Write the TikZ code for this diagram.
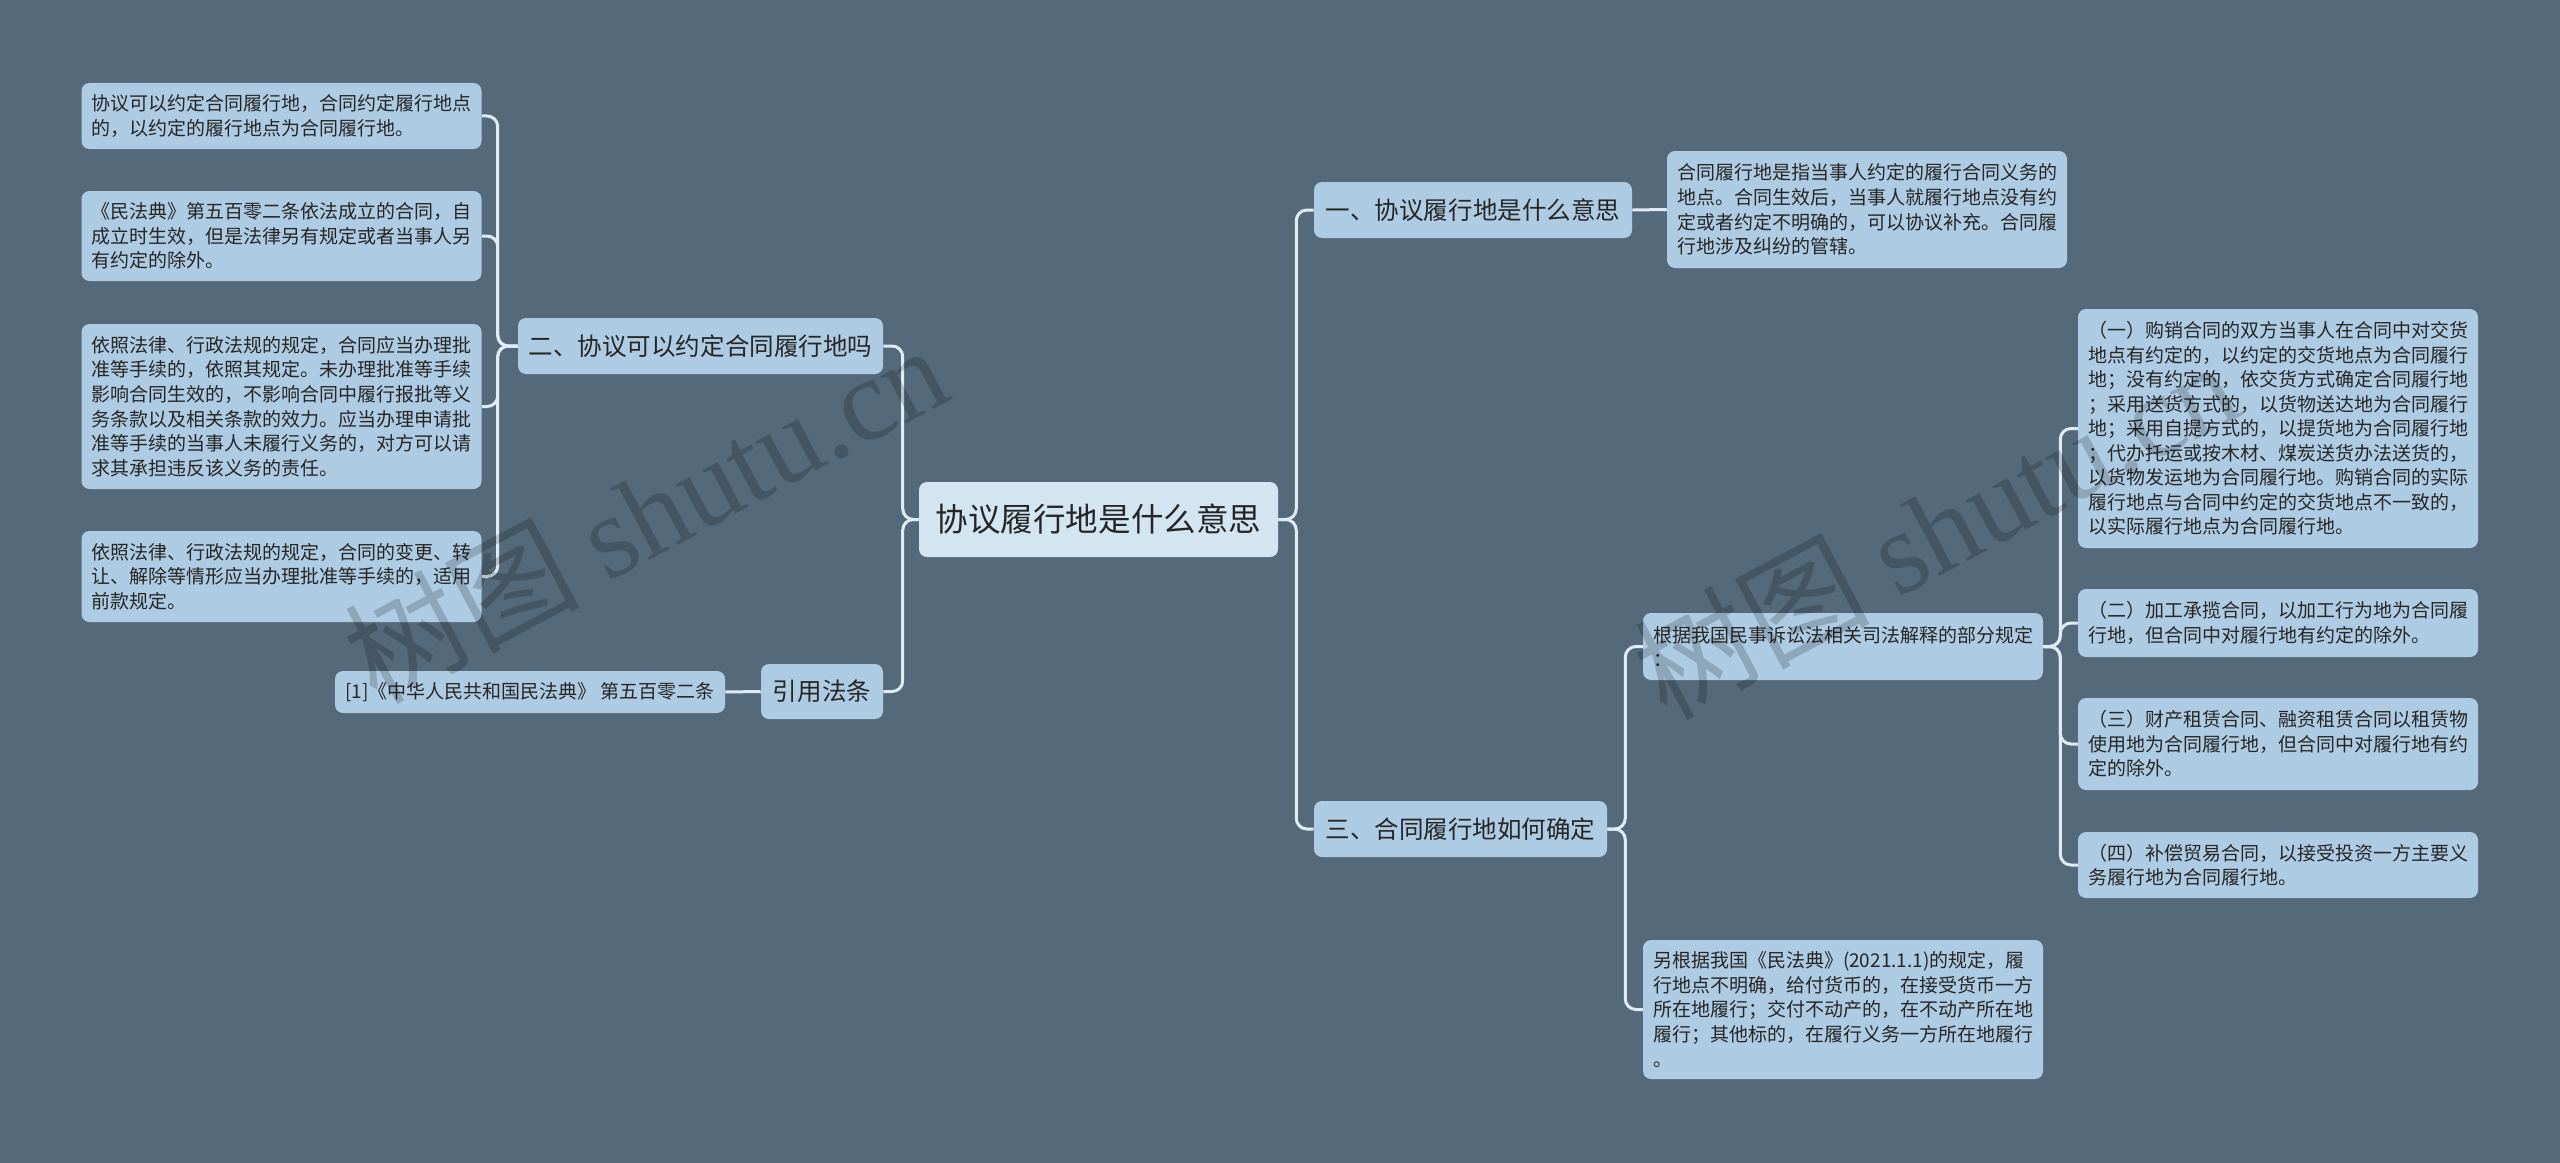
\documentclass[tikz,border=0pt]{standalone}
\usepackage{fontspec}
\setmainfont{Noto Sans CJK SC}
\newfontfamily\wmlatin{Liberation Serif}
\definecolor{bgc}{HTML}{546A7A}
\definecolor{nodefill}{HTML}{ADCBE2}
\definecolor{rootfill}{HTML}{D2E5F1}
\definecolor{linec}{HTML}{DDECF5}
\definecolor{txt}{HTML}{262626}
\newcommand\lfnt{\fontsize{14.25pt}{18.4pt}\selectfont\parindent=0pt}
\newcommand\bfnt{\fontsize{18.4pt}{22pt}\selectfont}
\newcommand\rfnt{\fontsize{24.4pt}{28pt}\selectfont}
\tikzset{
  box/.style={rectangle, rounded corners=6pt, fill=nodefill, text=txt, inner sep=0pt},
  leaf/.style={box, text width=285pt, align=left, inner xsep=7.5pt, font=\lfnt},
  branch/.style={box, font=\bfnt, minimum height=42pt},
  rootbox/.style={box, fill=rootfill, font=\rfnt, minimum width=269.25pt, minimum height=56.25pt},
  conn/.style={draw=linec, line width=2.25pt, rounded corners=8pt},
  wm/.style={text=black, text opacity=0.18, rotate=28, inner sep=0pt, font=\fontsize{88pt}{96pt}\selectfont}
}
\begin{document}
\begin{tikzpicture}[x=0.75pt,y=-0.75pt]
\path[fill=bgc] (0,0) rectangle (2560,1163);
\useasboundingbox (0,0) rectangle (2560,1163);

% root
\node[rootbox] (root) at (1098.5,519.5) {协议履行地是什么意思};

% left side
\node[branch, minimum width=273.75pt] (L1) at (700.5,346) {二、协议可以约定合同履行地吗};
\node[branch, minimum width=91.5pt, minimum height=41.25pt] (cite) at (822,691.5) {引用法条};
\node[box, font=\lfnt, minimum width=292.5pt, minimum height=31.5pt] (citeleaf) at (530,692) {[1]《中华人民共和国民法典》 第五百零二条};

\node[leaf, minimum height=49.5pt] (leaf1) at (281.5,116) {协议可以约定合同履行地，合同约定履行地点\\的，以约定的履行地点为合同履行地。};
\node[leaf, minimum height=67.5pt] (leaf2) at (281.5,236) {《民法典》第五百零二条依法成立的合同，自\\成立时生效，但是法律另有规定或者当事人另\\有约定的除外。};
\node[leaf, minimum height=123.75pt] (leaf3) at (281.5,406.5) {依照法律、行政法规的规定，合同应当办理批\\准等手续的，依照其规定。未办理批准等手续\\影响合同生效的，不影响合同中履行报批等义\\务条款以及相关条款的效力。应当办理申请批\\准等手续的当事人未履行义务的，对方可以请\\求其承担违反该义务的责任。};
\node[leaf, minimum height=68.25pt] (leaf4) at (281.5,576.5) {依照法律、行政法规的规定，合同的变更、转\\让、解除等情形应当办理批准等手续的，适用\\前款规定。};

% right side
\node[branch, minimum width=238.5pt] (R1) at (1473,210) {一、协议履行地是什么意思};
\node[leaf, minimum height=87.75pt] (R1leaf) at (1867,209.5) {合同履行地是指当事人约定的履行合同义务的\\地点。合同生效后，当事人就履行地点没有约\\定或者约定不明确的，可以协议补充。合同履\\行地涉及纠纷的管辖。};

\node[branch, minimum width=219.75pt] (R3) at (1460.5,829) {三、合同履行地如何确定};
\node[leaf, minimum height=50.25pt] (gen) at (1843,646.5) {根据我国民事诉讼法相关司法解释的部分规定\\：};
\node[leaf, minimum height=104.25pt] (ling) at (1843,1009.5) {另根据我国《民法典》(2021.1.1)的规定，履\\行地点不明确，给付货币的，在接受货币一方\\所在地履行；交付不动产的，在不动产所在地\\履行；其他标的，在履行义务一方所在地履行\\。};

\node[leaf, minimum height=179.25pt] (c1) at (2278,428.5) {（一）购销合同的双方当事人在合同中对交货\\地点有约定的，以约定的交货地点为合同履行\\地；没有约定的，依交货方式确定合同履行地\\；采用送货方式的，以货物送达地为合同履行\\地；采用自提方式的，以提货地为合同履行地\\；代办托运或按木材、煤炭送货办法送货的，\\以货物发运地为合同履行地。购销合同的实际\\履行地点与合同中约定的交货地点不一致的，\\以实际履行地点为合同履行地。};
\node[leaf, minimum height=51pt] (c2) at (2278,623) {（二）加工承揽合同，以加工行为地为合同履\\行地，但合同中对履行地有约定的除外。};
\node[leaf, minimum height=69pt] (c3) at (2278,744) {（三）财产租赁合同、融资租赁合同以租赁物\\使用地为合同履行地，但合同中对履行地有约\\定的除外。};
\node[leaf, minimum height=49.5pt] (c4) at (2278,865) {（四）补偿贸易合同，以接受投资一方主要义\\务履行地为合同履行地。};

% connectors
\draw[conn] (root.west) -- ++(-16,0) |- (L1.east);
\draw[conn] (root.west) -- ++(-16,0) |- (cite.east);
\draw[conn] (cite.west) -- (citeleaf.east);
\foreach \n in {leaf1,leaf2,leaf3,leaf4}
  \draw[conn] (L1.west) -- ++(-20,0) |- (\n.east);
\draw[conn] (root.east) -- ++(18,0) |- (R1.west);
\draw[conn] (root.east) -- ++(18,0) |- (R3.west);
\draw[conn] (R1.east) -- (R1leaf.west);
\draw[conn] (R3.east) -- ++(18,0) |- (gen.west);
\draw[conn] (R3.east) -- ++(18,0) |- (ling.west);
\foreach \n in {c1,c2,c3,c4}
  \draw[conn] (gen.east) -- ++(17,0) |- (\n.west);

% watermarks
\node[wm] (wm1) at (645,512) {树图 {\wmlatin shutu.cn}};
\node[wm] (wm2) at (1935,528) {树图 {\wmlatin shutu.cn}};
\end{tikzpicture}
\end{document}
